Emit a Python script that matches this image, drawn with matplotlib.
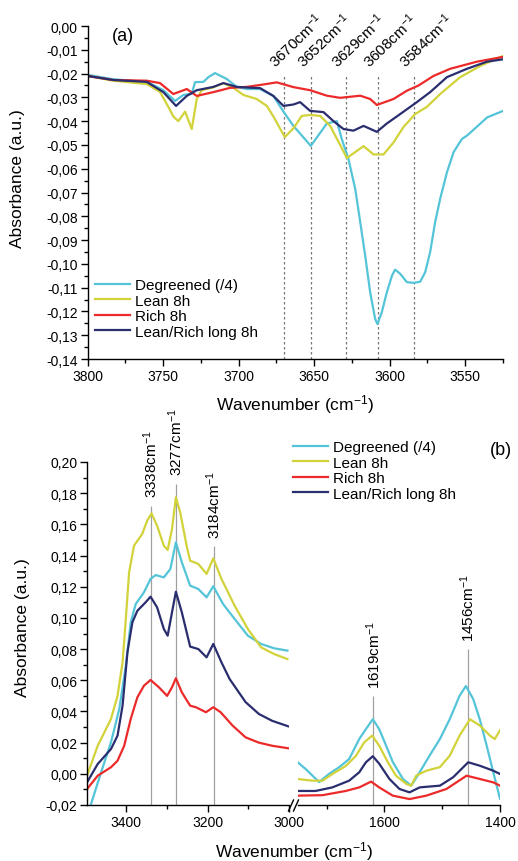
import matplotlib
matplotlib.use('Agg')
import matplotlib.pyplot as plt
from matplotlib.ticker import MultipleLocator, FuncFormatter
from matplotlib.lines import Line2D

plt.rcParams['font.family'] = ['Liberation Sans', 'DejaVu Sans']
plt.rcParams['mathtext.fontset'] = 'custom'
plt.rcParams['mathtext.rm'] = 'Liberation Sans'
plt.rcParams['mathtext.it'] = 'Liberation Sans:italic'
plt.rcParams['mathtext.bf'] = 'Liberation Sans:bold'

# ---------------- data ----------------
names = ["Degreened (/4)", "Lean 8h", "Rich 8h", "Lean/Rich long 8h"]
colors = ['#54C4D8', '#D2D23A', '#EC2A2A', '#2A2D6E']

# panel (a)
a_deg_x = [3800, 3783, 3760.6, 3749.8, 3742, 3736.6, 3731, 3728.8, 3723.3, 3720, 3715.6, 3707.8,
           3701.2, 3694.6, 3685.8, 3677, 3670.3, 3663.7, 3652.2, 3641.6, 3635, 3631.7, 3627.3,
           3622.8, 3619.5, 3616.2, 3612.9, 3609.6, 3608.1, 3605.2, 3601.9, 3598.5, 3596.4, 3593,
           3588.6, 3584.2, 3579.8, 3576.5, 3573.2, 3569.9, 3566.6, 3562.1, 3557.7, 3552.2, 3548.7,
           3535.4, 3525]
a_deg_y = [-0.0205, -0.0224, -0.0235, -0.027, -0.0315, -0.029, -0.0285, -0.0236, -0.0235, -0.0215,
           -0.0198, -0.0223, -0.0256, -0.0265, -0.0265, -0.0294, -0.036, -0.042, -0.0504, -0.041,
           -0.040, -0.0475, -0.0559, -0.0685, -0.0824, -0.0966, -0.112, -0.1232, -0.1253, -0.1203,
           -0.112, -0.105, -0.1024, -0.1042, -0.1077, -0.108, -0.1075, -0.1035, -0.095, -0.0824,
           -0.0727, -0.0615, -0.053, -0.0475, -0.046, -0.0384, -0.0357]
a_lean_x = [3800, 3783, 3760.8, 3752, 3746.5, 3743.2, 3739.9, 3735.4, 3731, 3727.7, 3724.4, 3716.7,
            3710.1, 3703.4, 3696.8, 3688, 3681.3, 3677, 3669.4, 3663.7, 3658.2, 3652.6, 3646,
            3639.4, 3632.8, 3628.3, 3621.7, 3617.3, 3610.7, 3604.1, 3597.5, 3590.9, 3583.1, 3575.4,
            3566.6, 3553.3, 3540.1, 3525]
a_lean_y = [-0.021, -0.023, -0.0244, -0.0277, -0.034, -0.038, -0.040, -0.036, -0.0433, -0.0307,
            -0.027, -0.0258, -0.024, -0.026, -0.029, -0.0307, -0.0336, -0.038, -0.0467, -0.043,
            -0.0378, -0.0374, -0.0378, -0.042, -0.050, -0.0555, -0.0525, -0.0505, -0.054, -0.054,
            -0.049, -0.0425, -0.037, -0.034, -0.0286, -0.0215, -0.0168, -0.0126]
a_rich_x = [3800, 3783, 3760.8, 3752, 3743.2, 3734.3, 3727.7, 3716.7, 3705.6, 3694.6, 3685.8, 3674.7,
            3663.7, 3652.6, 3641.6, 3632.8, 3619.5, 3612.9, 3608.5, 3597.5, 3588.6, 3580.9, 3571,
            3560, 3542.3, 3525]
a_rich_y = [-0.021, -0.0227, -0.023, -0.024, -0.0286, -0.0265, -0.0294, -0.0278, -0.026, -0.0256,
            -0.0248, -0.0237, -0.0257, -0.027, -0.0293, -0.0302, -0.0293, -0.0307, -0.0332, -0.0307,
            -0.0272, -0.025, -0.021, -0.018, -0.015, -0.013]
a_long_x = [3800, 3783, 3760.8, 3749.8, 3741.4, 3734.3, 3727.7, 3716.7, 3710.1, 3701.2, 3690.2, 3685.8,
            3677, 3670.3, 3663.7, 3659.3, 3652.6, 3643.8, 3637.2, 3630.6, 3624, 3617.3, 3608.5,
            3601.9, 3593, 3582, 3573.2, 3562.1, 3548.9, 3535.6, 3525]
a_long_y = [-0.021, -0.0227, -0.0235, -0.0278, -0.0336, -0.0294, -0.027, -0.0256, -0.024, -0.0256,
            -0.026, -0.0261, -0.0294, -0.0336, -0.033, -0.032, -0.0357, -0.0362, -0.040, -0.0433,
            -0.044, -0.042, -0.0445, -0.041, -0.037, -0.032, -0.0278, -0.0215, -0.018, -0.015, -0.014]
a_peaks = [3670, 3652, 3629, 3608, 3584]
a_peak_top = -0.021

# panel (b), high-wavenumber part
b1_deg_x = [3489, 3460.5, 3436.3, 3416, 3400, 3388, 3375.8, 3355.7, 3339.5, 3327, 3307, 3291,
            3277.5, 3263, 3242.6, 3222.5, 3202.4, 3186, 3162, 3133.7, 3101.4, 3069, 3036.8, 3004.6]
b1_deg_y = [-0.0226, 0.001, 0.0202, 0.0416, 0.0693, 0.0972, 0.1089, 0.1164, 0.125, 0.1275, 0.126,
            0.1314, 0.1485, 0.1357, 0.1207, 0.1185, 0.1132, 0.1203, 0.1089, 0.0993, 0.0886, 0.0833,
            0.0805, 0.079]
b1_lean_x = [3495, 3468.8, 3436.3, 3420.3, 3408, 3400, 3392, 3380, 3360, 3347.7, 3337, 3323.5, 3307,
             3297.6, 3287, 3277.5, 3267, 3251, 3242.6, 3222.5, 3202.4, 3186, 3166, 3133.7, 3101.4,
             3069, 3036.8, 3004.6]
b1_lean_y = [-0.0012, 0.018, 0.0352, 0.050, 0.0715, 0.0993, 0.1292, 0.1463, 0.1538, 0.1624, 0.167,
             0.1591, 0.1463, 0.1436, 0.157, 0.1774, 0.1677, 0.146, 0.1367, 0.1346, 0.1282, 0.1382,
             0.125, 0.1078, 0.0929, 0.0811, 0.0768, 0.0736]
b1_rich_x = [3495, 3468.8, 3436.3, 3420.3, 3404, 3388, 3371.7, 3355.7, 3339.5, 3319, 3299, 3287,
             3277.5, 3263, 3242.6, 3228.5, 3204, 3186, 3168, 3139, 3107, 3074.5, 3042, 3003]
b1_rich_y = [-0.0098, -0.0012, 0.0042, 0.0084, 0.018, 0.0352, 0.0491, 0.0565, 0.0602, 0.0555, 0.050,
             0.0555, 0.0613, 0.0523, 0.0437, 0.0427, 0.0395, 0.0427, 0.0395, 0.031, 0.0234, 0.020,
             0.018, 0.0164]
b1_long_x = [3495, 3468.8, 3436.3, 3420.3, 3408, 3396, 3384, 3371.7, 3351.6, 3339.5, 3323.5, 3307,
             3297.6, 3287, 3277.5, 3263, 3242.6, 3222.5, 3202.4, 3186, 3166, 3146, 3107, 3074.5,
             3042, 3003]
b1_long_y = [-0.0055, 0.0063, 0.0159, 0.0245, 0.0437, 0.078, 0.0972, 0.1046, 0.110, 0.1136, 0.1068,
             0.0929, 0.0886, 0.1036, 0.1168, 0.1036, 0.0816, 0.080, 0.0747, 0.0833, 0.0715, 0.0608,
             0.046, 0.0384, 0.034, 0.0305]

# panel (b), low-wavenumber part
b2_deg_x = [1750, 1736, 1713, 1696, 1678, 1661, 1643.5, 1632, 1620, 1609, 1597, 1585.5, 1568,
            1553.6, 1539, 1522, 1504, 1487, 1470, 1459, 1446.4, 1435, 1423, 1411.6, 1400]
b2_deg_y = [0.0074, 0.003, -0.0053, -0.0001, 0.0043, 0.0095, 0.0223, 0.0287, 0.035, 0.0287, 0.018,
            0.0076, -0.0033, -0.0076, 0.001, 0.0116, 0.0223, 0.035, 0.050, 0.0563, 0.048, 0.035,
            0.018, 0.001, -0.016]
b2_lean_x = [1750, 1725, 1707, 1690, 1667, 1649, 1635, 1621, 1609, 1594, 1580, 1562, 1553.6, 1545,
             1527.5, 1504, 1487, 1470, 1452, 1435, 1417.4, 1409, 1400]
b2_lean_y = [-0.0033, -0.0044, -0.0044, -0.0001, 0.005, 0.0116, 0.0202, 0.0245, 0.018, 0.0074,
             -0.0012, -0.0065, -0.0076, -0.0012, 0.002, 0.0043, 0.0116, 0.0245, 0.035, 0.031,
             0.0245, 0.0223, 0.028]
b2_rich_x = [1750, 1707, 1667, 1643.5, 1623, 1609, 1585.5, 1556.5, 1527.5, 1492.6, 1457.8, 1435,
             1411.6, 1400]
b2_rich_y = [-0.014, -0.0137, -0.011, -0.0087, -0.005, -0.0087, -0.014, -0.0162, -0.014, -0.0097,
             -0.0012, -0.0033, -0.0055, -0.0076]
b2_long_x = [1750, 1719, 1690, 1661, 1643.5, 1632, 1620, 1609, 1591.3, 1574, 1556.5, 1539, 1504,
             1481, 1455, 1435, 1411.6, 1400]
b2_long_y = [-0.011, -0.011, -0.0087, -0.0044, 0.001, 0.0074, 0.0113, 0.0065, -0.0033, -0.0097,
             -0.0119, -0.0087, -0.0076, -0.0022, 0.0074, 0.0052, 0.002, -0.0001]

b1_peaks = [3338, 3277, 3184]
b1_peak_tops = [0.172, 0.186, 0.146]
b2_peaks = [1619, 1456]
b2_peak_tops = [0.050, 0.080]

# ---------------- figure ----------------
W, H = 518, 862
fig = plt.figure(figsize=(W / 100, H / 100), dpi=100)

def fx(px):
    return px / W

def fy(py):
    return 1 - py / H

def comma_fmt(v, pos):
    if abs(v) < 1e-9:
        v = 0.0
    return f"{v:.2f}".replace('.', ',')

def style_axis(ax):
    ax.patch.set_visible(False)
    for s in ['top', 'right']:
        ax.spines[s].set_visible(False)
    for s in ['left', 'bottom']:
        ax.spines[s].set_linewidth(1.0)
    ax.tick_params(which='major', direction='out', length=5, width=1.0, labelsize=10, pad=2)
    ax.tick_params(which='minor', direction='out', length=3, width=1.0)

lw = 1.6
label_fs = 12.5
legend_fs = 11
ann_fs = 11

# ---- panel (a) ----
axa = fig.add_axes([fx(87.5), fy(360), fx(503) - fx(87.5), fy(27) - fy(360)])
style_axis(axa)
for xs, ys, c, n in [(a_deg_x, a_deg_y, colors[0], names[0]),
                     (a_lean_x, a_lean_y, colors[1], names[1]),
                     (a_rich_x, a_rich_y, colors[2], names[2]),
                     (a_long_x, a_long_y, colors[3], names[3])]:
    axa.plot(xs, ys, color=c, lw=lw, label=n, solid_joinstyle='round')
axa.set_xlim(3800, 3525)
axa.set_ylim(-0.14, 0.0)
axa.xaxis.set_major_locator(MultipleLocator(50))
axa.xaxis.set_minor_locator(MultipleLocator(25))
axa.yaxis.set_major_locator(MultipleLocator(0.01))
axa.yaxis.set_minor_locator(MultipleLocator(0.005))
axa.yaxis.set_major_formatter(FuncFormatter(comma_fmt))
axa.vlines(a_peaks, -0.14, a_peak_top, colors='#777777', linestyles=(0, (2.0, 2.0)), lw=0.9, zorder=1)
for p in a_peaks:
    axa.annotate(f"{p}cm$^{{-1}}$", xy=(p, a_peak_top), xytext=(-4, 4), textcoords='offset points',
                 rotation=44, rotation_mode='anchor', ha='left', va='bottom', fontsize=ann_fs,
                 annotation_clip=False)
axa.text(0.085, 0.97, "(a)", transform=axa.transAxes, fontsize=13, ha='center', va='center')
axa.legend(loc='upper left', bbox_to_anchor=(fx(95), fy(279)), bbox_transform=fig.transFigure,
           frameon=False, fontsize=legend_fs, handlelength=2.3, handletextpad=0.3,
           labelspacing=0.1, borderpad=0, borderaxespad=0)
fig.text(fx(295), fy(405), "Wavenumber (cm$^{-1}$)", ha='center', va='center', fontsize=label_fs)
fig.text(fx(18), fy(179), "Absorbance (a.u.)", ha='center', va='center', rotation=90, fontsize=label_fs)

# ---- panel (b) ----
axb1 = fig.add_axes([fx(87), fy(806), fx(289.3) - fx(87), fy(463) - fy(806)])
axb2 = fig.add_axes([fx(297.7), fy(806), fx(500) - fx(297.7), fy(463) - fy(806)])
style_axis(axb1)
style_axis(axb2)
axb2.spines['left'].set_visible(False)
axb2.tick_params(axis='y', which='both', left=False, labelleft=False)

b_handles = []
for xs, ys, c, n in [(b1_deg_x, b1_deg_y, colors[0], names[0]),
                     (b1_lean_x, b1_lean_y, colors[1], names[1]),
                     (b1_rich_x, b1_rich_y, colors[2], names[2]),
                     (b1_long_x, b1_long_y, colors[3], names[3])]:
    h, = axb1.plot(xs, ys, color=c, lw=lw, label=n, solid_joinstyle='round')
    b_handles.append(h)
for xs, ys, c in [(b2_deg_x, b2_deg_y, colors[0]), (b2_lean_x, b2_lean_y, colors[1]),
                  (b2_rich_x, b2_rich_y, colors[2]), (b2_long_x, b2_long_y, colors[3])]:
    axb2.plot(xs, ys, color=c, lw=lw, solid_joinstyle='round')

for ax in (axb1, axb2):
    ax.set_ylim(-0.02, 0.20)
    ax.yaxis.set_major_locator(MultipleLocator(0.02))
    ax.yaxis.set_minor_locator(MultipleLocator(0.01))
    ax.yaxis.set_major_formatter(FuncFormatter(comma_fmt))
    ax.xaxis.set_major_locator(MultipleLocator(200))
    ax.xaxis.set_minor_locator(MultipleLocator(100))
axb1.set_xlim(3495, 3000)
axb2.set_xlim(1750, 1400)

axb1.vlines(b1_peaks, -0.02, b1_peak_tops, colors='#A0A0A0', lw=0.9, zorder=1)
axb2.vlines(b2_peaks, -0.02, b2_peak_tops, colors='#A0A0A0', lw=0.9, zorder=1)
for ax, peaks, tops in [(axb1, b1_peaks, b1_peak_tops), (axb2, b2_peaks, b2_peak_tops)]:
    for p, t in zip(peaks, tops):
        ax.annotate(f"{p}cm$^{{-1}}$", xy=(p, t), xytext=(0, 6), textcoords='offset points',
                    rotation=90, rotation_mode='anchor', ha='left', va='center', fontsize=ann_fs,
                    annotation_clip=False)

fig.legend(handles=b_handles, labels=names, loc='upper left', bbox_to_anchor=(fx(293), fy(441)),
           bbox_transform=fig.transFigure, frameon=False, fontsize=legend_fs, handlelength=2.3,
           handletextpad=0.3, labelspacing=0.1, borderpad=0, borderaxespad=0)
fig.text(fx(501), fy(451), "(b)", ha='center', va='center', fontsize=13)
fig.text(fx(294), fy(852), "Wavenumber (cm$^{-1}$)", ha='center', va='center', fontsize=label_fs)
fig.text(fx(23), fy(628), "Absorbance (a.u.)", ha='center', va='center', rotation=90, fontsize=label_fs)

# axis-break marks
for x0 in (288.5, 293.5):
    fig.add_artist(Line2D([fx(x0), fx(x0 + 5)], [fy(812), fy(801)], transform=fig.transFigure,
                          color='black', lw=1.0))

fig.savefig('out.png', dpi=100, facecolor='white')
